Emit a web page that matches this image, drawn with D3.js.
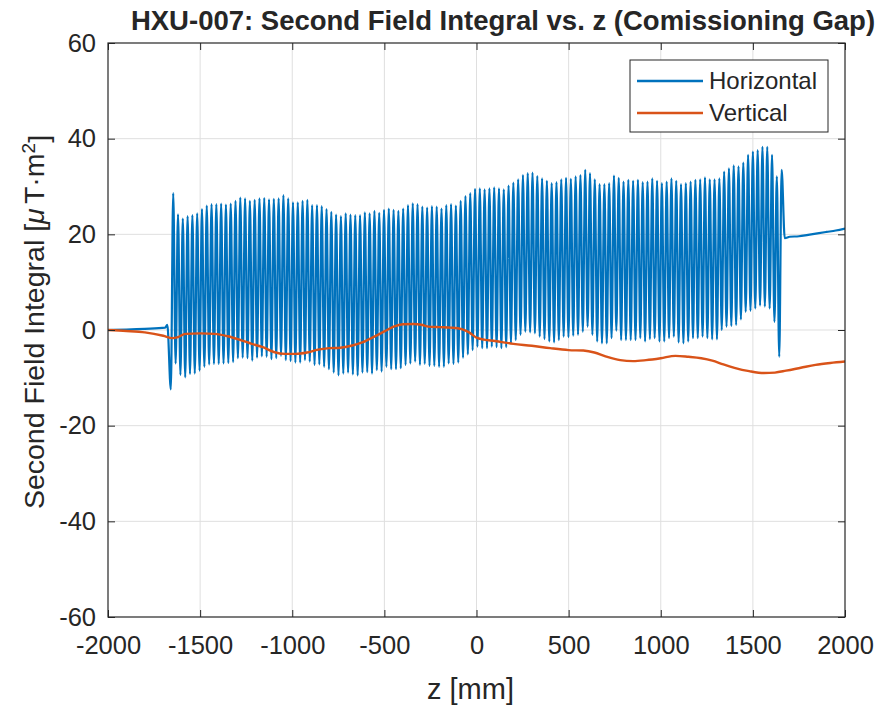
<!DOCTYPE html>
<html><head><meta charset="utf-8">
<script src="https://cdn.jsdelivr.net/npm/d3@7"></script>
<style>
html,body{margin:0;padding:0;background:#fff;}
text{font-family:"Liberation Sans",Arial,Helvetica,sans-serif;fill:#262626;}
</style></head>
<body>
<svg id="chart" width="887" height="708"></svg>
<script>
// ---------------- DATA ----------------
const titleText = "HXU-007: Second Field Integral vs. z (Comissioning Gap)";
const xLabelText = "z [mm]";
const xTicks = [-2000,-1500,-1000,-500,0,500,1000,1500,2000];
const yTicks = [-60,-40,-20,0,20,40,60];
const seriesNames = ["Horizontal","Vertical"];

// Horizontal: lead-in before the undulator
const hPreZ = [-2000,-1900,-1800,-1690,-1678];
const hPreV = [0,0.1,0.25,0.5,1.1];
// Horizontal: oscillation peaks (one per 26 mm period) and troughs (half period before each peak)
const hPeakZ0 = -1646;
const hPeriod = 26;
const hPeaks = [28.6,24.2,23.3,23.8,24.0,24.4,25.3,26.0,26.3,26.3,
 26.4,26.2,26.4,27.0,27.7,27.5,27.0,27.2,27.5,27.6,
 27.3,27.4,27.5,28.2,27.5,26.7,26.7,27.0,27.2,26.1,
 26.1,25.9,25.3,24.7,24.1,23.8,24.4,24.1,24.0,24.0,
 24.6,24.4,24.9,24.5,25.1,25.4,25.1,24.9,25.4,26.1,
 26.5,26.3,25.8,25.6,25.9,25.8,25.4,26.1,26.3,26.0,
 27.0,28.0,28.6,29.5,29.6,29.4,29.6,29.8,29.6,29.4,
 30.2,30.8,31.5,32.4,32.8,32.9,32.2,31.7,31.2,30.7,
 30.9,31.5,31.8,31.6,32.1,32.4,33.5,32.8,31.5,30.5,
 30.5,30.7,32.3,31.8,31.0,31.4,31.2,31.4,30.9,31.0,
 31.7,31.2,30.7,31.0,31.7,31.2,30.5,30.7,31.0,31.4,
 31.5,31.9,31.5,31.5,31.7,33.1,33.8,34.4,34.2,35.0,
 36.6,37.3,37.6,38.3,38.3,36.6,32.1,33.5];
const hTroughs = [-12.4,-7.0,-9.4,-9.9,-9.2,-9.1,-8.5,-7.7,-7.2,-7.1,
 -7.1,-7.0,-6.9,-6.7,-5.9,-5.8,-5.9,-6.4,-5.8,-5.5,
 -5.6,-6.1,-5.9,-5.4,-6.3,-6.5,-6.8,-6.8,-6.3,-6.6,
 -7.3,-7.2,-7.7,-8.2,-8.9,-9.5,-9.1,-8.9,-9.3,-9.5,
 -8.9,-8.8,-9.1,-8.4,-8.7,-7.7,-8.2,-8.2,-8.0,-7.3,
 -7.0,-6.6,-7.3,-7.1,-7.5,-7.5,-7.7,-7.7,-7.0,-7.1,
 -6.8,-5.8,-5.1,-4.2,-3.5,-3.8,-3.8,-3.5,-3.6,-3.8,
 -3.6,-2.8,-2.1,-1.0,-0.35,-0.5,-0.7,-1.4,-1.9,-2.4,
 -2.6,-2.1,-1.4,-1.5,-1.2,-1.0,-0.35,0.7,-1.0,-2.4,
 -2.8,-2.8,-1.7,-0.15,-2.1,-2.1,-2.1,-2.1,-1.7,-2.4,
 -1.9,-1.7,-2.4,-2.4,-1.7,-1.4,-2.6,-2.8,-2.4,-1.7,
 -1.7,-1.4,-1.7,-1.95,-1.95,0,0.7,0.84,1.05,2.2,
 3.8,4.0,4.5,5.1,4.9,4.5,1.7,-5.6];
// Horizontal: tail after the undulator
const hPostZ = [1673,1700,1750,1800,1850,1900,1950,2000];
const hPostV = [19.2,19.5,19.6,19.9,20.2,20.5,20.8,21.2];

// Vertical series
const vZ = [-2000,-1900,-1800,-1700,-1650,-1620,-1580,-1500,-1420,-1350,-1280,-1220,-1160,-1100,-1040,-980,-920,-860,-800,-740,-680,-620,-560,-500,-450,-400,-340,-300,-260,-200,-140,-80,-40,0,40,100,200,300,400,500,580,640,700,780,850,920,1000,1080,1150,1220,1280,1340,1400,1480,1560,1620,1680,1760,1840,1920,2000];
const vV = [0,-0.2,-0.5,-1.2,-1.7,-1.5,-0.8,-0.7,-0.8,-1.3,-2.1,-2.9,-3.6,-4.6,-5.0,-5.0,-4.7,-4.1,-3.8,-3.7,-3.3,-2.6,-1.5,-0.3,0.7,1.2,1.25,1.1,0.7,0.6,0.5,0.2,-0.5,-1.6,-2.0,-2.3,-2.9,-3.3,-3.8,-4.2,-4.3,-4.7,-5.5,-6.3,-6.5,-6.3,-5.9,-5.4,-5.6,-5.9,-6.4,-7.2,-7.9,-8.6,-9.0,-8.9,-8.5,-7.9,-7.3,-6.9,-6.6];

// ---------------- BUILD ----------------
const hData = [];
hPreZ.forEach((z,i)=>hData.push([z,hPreV[i]]));
hPeaks.forEach((p,i)=>{
  const zp = hPeakZ0 + i*hPeriod;
  hData.push([zp - hPeriod/2, hTroughs[i]]);
  hData.push([zp, p]);
});
hPostZ.forEach((z,i)=>hData.push([z,hPostV[i]]));
const vData = vZ.map((z,i)=>[z,vV[i]]);

const svg = d3.select("#chart");
const L=108, R=845, T=43, B=617;
const W=R-L, H=B-T;
const x = d3.scaleLinear().domain([-2000,2000]).range([L,R]);
const y = d3.scaleLinear().domain([-60,60]).range([B,T]);
const axisCol = "#262626";

// grid
const g = svg.append("g");
g.selectAll(".gx").data(xTicks.slice(1,-1)).enter().append("line")
  .attr("x1",d=>x(d)).attr("x2",d=>x(d)).attr("y1",T).attr("y2",B)
  .attr("stroke","#dfdfdf").attr("stroke-width",1);
g.selectAll(".gy").data(yTicks.slice(1,-1)).enter().append("line")
  .attr("y1",d=>y(d)).attr("y2",d=>y(d)).attr("x1",L).attr("x2",R)
  .attr("stroke","#dfdfdf").attr("stroke-width",1);

// clip
svg.append("clipPath").attr("id","clip").append("rect")
  .attr("x",L).attr("y",T).attr("width",W).attr("height",H);

const line = d3.line().x(d=>x(d[0])).y(d=>y(d[1])).curve(d3.curveMonotoneX);
const plot = svg.append("g").attr("clip-path","url(#clip)");
plot.append("path").datum(hData).attr("d",line)
  .attr("fill","none").attr("stroke","#0072BD").attr("stroke-width",2.2).attr("stroke-linejoin","round");
plot.append("path").datum(vData).attr("d",line)
  .attr("fill","none").attr("stroke","#D95319").attr("stroke-width",2.4).attr("stroke-linejoin","round");

// axes
const fs = 25.5;
const fmt = d => String(d);
const ax = svg.append("g").attr("transform",`translate(0,${B})`)
  .call(d3.axisBottom(x).tickValues(xTicks).tickSize(-7).tickPadding(10).tickFormat(fmt));
const ay = svg.append("g").attr("transform",`translate(${L},0)`)
  .call(d3.axisLeft(y).tickValues(yTicks).tickSize(-7).tickPadding(12).tickFormat(fmt));
const axT = svg.append("g").attr("transform",`translate(0,${T})`)
  .call(d3.axisTop(x).tickValues(xTicks).tickSize(-7).tickFormat(""));
const ayR = svg.append("g").attr("transform",`translate(${R},0)`)
  .call(d3.axisRight(y).tickValues(yTicks).tickSize(-7).tickFormat(""));
[ax,ay,axT,ayR].forEach(a=>{
  a.select(".domain").remove();
  a.selectAll("line").attr("stroke",axisCol);
  a.selectAll("text").attr("fill",axisCol).style("font-size",fs+"px")
   .style("font-family",'"Liberation Sans",Arial,sans-serif');
});
ax.selectAll("text").attr("dy","1.05em");
svg.append("rect").attr("x",L).attr("y",T).attr("width",W).attr("height",H)
  .attr("fill","none").attr("stroke",axisCol).attr("stroke-width",1.2);

// labels
svg.append("text").attr("x",503).attr("y",30).attr("text-anchor","middle")
  .style("font-size","27.5px").style("font-weight","bold").attr("fill","#000").text(titleText);
svg.append("text").attr("x",(L+R)/2 - 6).attr("y",699).attr("text-anchor","middle")
  .style("font-size","29px").text(xLabelText);
const yl = svg.append("text").attr("transform",`translate(44,${(T+B)/2 - 8}) rotate(-90)`)
  .attr("text-anchor","middle").style("font-size","28.5px");
yl.append("tspan").text("Second Field Integral [");
yl.append("tspan").style("font-style","italic").text("\u03bc");
yl.append("tspan").attr("dx","0.15em").text("T\u00b7m");
yl.append("tspan").attr("dy","-0.45em").style("font-size","19px").text("2");
yl.append("tspan").attr("dy","0.45em").text("]");

// legend
const lg = svg.append("g");
lg.append("rect").attr("x",630).attr("y",60).attr("width",198).attr("height",72)
  .attr("fill","#fff").attr("stroke",axisCol).attr("stroke-width",1);
const lcol = ["#0072BD","#D95319"];
seriesNames.forEach((n,i)=>{
  const yy = 81 + i*32;
  lg.append("line").attr("x1",637).attr("x2",703).attr("y1",yy).attr("y2",yy)
    .attr("stroke",lcol[i]).attr("stroke-width",2.4);
  lg.append("text").attr("x",709).attr("y",yy+8).style("font-size","24px").text(n);
});
</script>
</body></html>
